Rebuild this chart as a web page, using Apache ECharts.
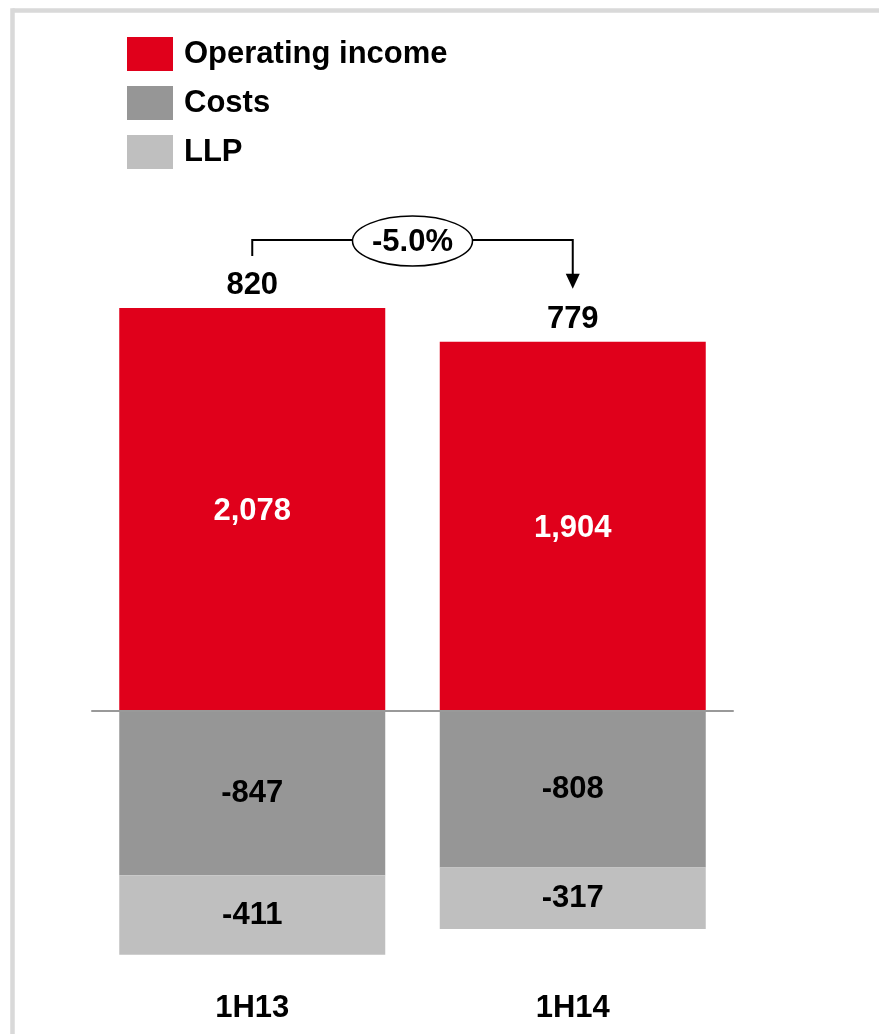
<!DOCTYPE html>
<html>
<head>
<meta charset="utf-8">
<script src="https://cdn.jsdelivr.net/npm/echarts@6/dist/echarts.min.js"></script>
<style>
  html, body { margin: 0; padding: 0; background: #ffffff; }
  #chart { width: 879px; height: 1034px; }
</style>
</head>
<body>
<div id="chart"></div>
<script>
// Half-year P&L bridge: operating income less costs and loan loss provisions
const periods = ['1H13', '1H14'];
const operatingIncome = [2078, 1904];
const costs = [-847, -808];
const llp = [-411, -317];
const changeLabel = '-5.0%';

const FONT = '"Liberation Sans", Arial, Helvetica, sans-serif';
const RED = '#e0001b';
const DARK_GREY = '#969696';
const LIGHT_GREY = '#bfbfbf';
const FRAME = '#d9d9d9';
const FS = 31;

// net result shown above each column
const netResult = periods.map((_, i) => operatingIncome[i] + costs[i] + llp[i]);

const fmt = v => v.toLocaleString('en-US');

const chart = echarts.init(document.getElementById('chart'), null, { renderer: 'canvas' });

const labelBase = { show: true, position: 'inside', fontFamily: FONT, fontSize: FS, fontWeight: 'bold' };

chart.setOption({
  animation: false,
  backgroundColor: '#ffffff',
  legend: {
    orient: 'vertical',
    left: 127,
    top: 37,
    padding: 0,
    itemWidth: 46,
    itemHeight: 34,
    itemGap: 15,
    icon: 'rect',
    selectedMode: false,
    data: ['Operating income', 'Costs', 'LLP'],
    textStyle: { fontFamily: FONT, fontSize: FS, fontWeight: 'bold', color: '#000', padding: [0, 0, 0, 6] }
  },
  grid: { left: 92, right: 146, top: 265, bottom: 71 },
  xAxis: [
    {
      type: 'category',
      data: periods,
      axisLine: { show: true, onZero: true, lineStyle: { color: '#999999', width: 2 } },
      axisTick: { show: false },
      axisLabel: { show: false },
      z: 5
    },
    {
      type: 'category',
      data: periods,
      position: 'bottom',
      axisLine: { show: false, onZero: false },
      axisTick: { show: false },
      axisLabel: { show: true, margin: 30, fontFamily: FONT, fontSize: FS, fontWeight: 'bold', color: '#000' }
    }
  ],
  yAxis: {
    type: 'value',
    min: -1300,
    max: 2300,
    show: false,
    splitLine: { show: false }
  },
  series: [
    {
      name: 'Operating income',
      type: 'bar',
      stack: 'pl',
      barWidth: 266,
      itemStyle: { color: RED },
      label: Object.assign({}, labelBase, { color: '#ffffff', offset: [0, 2], formatter: p => fmt(p.value) }),
      data: operatingIncome
    },
    {
      name: 'Costs',
      type: 'bar',
      stack: 'pl',
      barWidth: 266,
      itemStyle: { color: DARK_GREY },
      label: Object.assign({}, labelBase, { color: '#000000', formatter: p => fmt(p.value) }),
      data: costs
    },
    {
      name: 'LLP',
      type: 'bar',
      stack: 'pl',
      barWidth: 266,
      itemStyle: { color: LIGHT_GREY },
      label: Object.assign({}, labelBase, { color: '#000000', formatter: p => fmt(p.value) }),
      data: llp
    },
    {
      // transparent overlay on the label axis carrying the net result above each column
      name: 'Net',
      type: 'bar',
      xAxisIndex: 1,
      barWidth: 266,
      silent: true,
      itemStyle: { color: 'rgba(0,0,0,0)' },
      label: {
        show: true,
        position: 'top',
        distance: 7,
        fontFamily: FONT,
        fontSize: FS,
        fontWeight: 'bold',
        color: '#000000',
        formatter: p => fmt(netResult[p.dataIndex])
      },
      data: operatingIncome
    }
  ]
});

// change annotation: bracket from the first column to an arrow over the second
const p0 = chart.convertToPixel({ seriesIndex: 0 }, [0, operatingIncome[0]]);
const p1 = chart.convertToPixel({ seriesIndex: 0 }, [1, operatingIncome[1]]);
const bracketY = p0[1] - 68;
const leftFoot = p0[1] - 52;
const arrowTip = p1[1] - 53;
const midX = (p0[0] + p1[0]) / 2;
const lineStyle = { stroke: '#000', lineWidth: 2, fill: null };

chart.setOption({
  graphic: [
    // frame
    { type: 'line', shape: { x1: 12.5, y1: 10.5, x2: 879, y2: 10.5 }, style: { stroke: FRAME, lineWidth: 4.5 }, silent: true },
    { type: 'line', shape: { x1: 12.5, y1: 8.25, x2: 12.5, y2: 1034 }, style: { stroke: FRAME, lineWidth: 4.5 }, silent: true },
    // bracket
    { type: 'polyline', shape: { points: [[p0[0], leftFoot], [p0[0], bracketY], [midX, bracketY]] }, style: lineStyle, silent: true },
    { type: 'polyline', shape: { points: [[midX, bracketY], [p1[0], bracketY], [p1[0], arrowTip - 14]] }, style: lineStyle, silent: true },
    { type: 'polygon', shape: { points: [[p1[0] - 7, arrowTip - 15], [p1[0] + 7, arrowTip - 15], [p1[0], arrowTip]] }, style: { fill: '#000' }, silent: true },
    { type: 'ellipse', shape: { cx: midX, cy: bracketY + 1, rx: 60, ry: 25 }, style: { fill: '#fff', stroke: '#000', lineWidth: 1.5 }, silent: true, z: 10 },
    {
      type: 'text', x: midX, y: bracketY + 2, z: 11, silent: true,
      style: { text: changeLabel, align: 'center', verticalAlign: 'middle', fontFamily: FONT, fontSize: FS, fontWeight: 'bold', fill: '#000' }
    }
  ]
});
</script>
</body>
</html>
